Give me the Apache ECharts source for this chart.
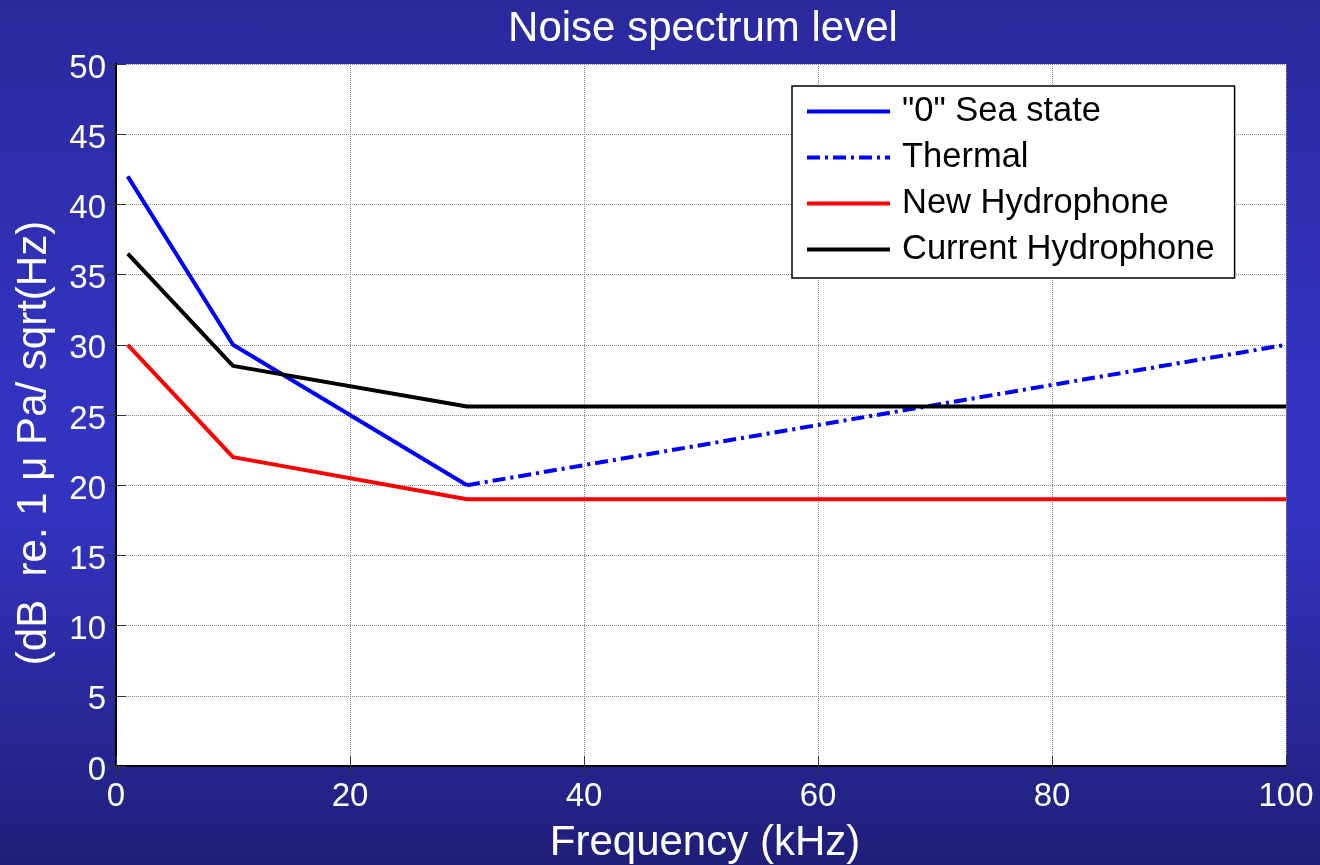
<!DOCTYPE html>
<html>
<head>
<meta charset="utf-8">
<script src="https://cdn.jsdelivr.net/npm/echarts@6/dist/echarts.min.js"></script>
<style>
html,body{margin:0;padding:0;}
#chart{width:1320px;height:865px;background:linear-gradient(to bottom,#2a299c 0%,#3333c2 45%,#3333c0 60%,#201e78 100%);}
</style>
</head>
<body>
<div id="chart"></div>
<script>
const titleText = 'Noise spectrum level';
const xAxisName = 'Frequency (kHz)';
const yAxisName = '(dB  re. 1 \u03bc Pa/ sqrt(Hz)';
const seriesNames = ['"0" Sea state', 'Thermal', 'New Hydrophone', 'Current Hydrophone'];

const freqSea = [1, 10, 30];
const seaState = [42, 30, 20];
const freqThermal = [30, 100];
const thermal = [20, 30];
const freqHydro = [1, 10, 30, 100];
const newHydro = [30, 22, 19, 19];
const currentHydro = [36.5, 28.5, 25.6, 25.6];

const xTicks = [0, 20, 40, 60, 80, 100];
const yTicks = [0, 5, 10, 15, 20, 25, 30, 35, 40, 45, 50];

const pair = (xs, ys) => xs.map((x, i) => [x, ys[i]]);
const FONT = "'Liberation Sans', Arial, Helvetica, sans-serif";

const SOLID_ICON = 'path://M0,0H83V4H0Z';
const DASHDOT_ICON = 'path://M0,0H13V4H0Z M18,0H21V4H18Z M26,0H39V4H26Z M44,0H47V4H44Z M52,0H65V4H52Z M70,0H73V4H70Z M78,0H83V4H78Z';

const chart = echarts.init(document.getElementById('chart'), null, {renderer: 'canvas'});

const gridLine = {show: true, lineStyle: {color: '#8c8c8c', type: 'dotted', width: 1}};
const axLine = {show: true, lineStyle: {color: '#000', width: 2}};
const tick = {show: true, inside: true, length: 10, lineStyle: {color: '#333', width: 1}};

const option = {
  backgroundColor: 'transparent',
  animation: false,
  title: {
    text: titleText,
    left: 698, top: 3, textAlign: 'center',
    textStyle: {color: '#fff', fontSize: 42, fontWeight: 'normal', fontFamily: FONT}
  },
  grid: {left: 116, right: 34, top: 64, bottom: 99, show: true, backgroundColor: '#fff', borderWidth: 0},
  legend: {
    data: seriesNames.map((n, i) => ({name: n, icon: i === 1 ? DASHDOT_ICON : SOLID_ICON})),
    orient: 'vertical',
    left: 792, top: 86,
    backgroundColor: '#fff',
    borderColor: '#000', borderWidth: 1.5,
    padding: [8, 20, 11, 15],
    itemWidth: 83, itemHeight: 4, itemGap: 11,
    textStyle: {color: '#000', fontSize: 34.5, fontFamily: FONT, padding: [0, 0, 0, 7]},
    selectedMode: false
  },
  xAxis: [{
    type: 'value', min: xTicks[0], max: xTicks[xTicks.length - 1], interval: 20,
    position: 'bottom',
    axisLine: axLine, axisTick: tick, splitLine: gridLine,
    axisLabel: {color: '#fff', fontSize: 33, fontFamily: FONT, margin: 14}
  }, {
    type: 'value', min: xTicks[0], max: xTicks[xTicks.length - 1], interval: 20,
    position: 'top',
    axisLine: axLine, axisTick: tick, splitLine: {show: false}, axisLabel: {show: false}
  }],
  yAxis: [{
    type: 'value', min: yTicks[0], max: yTicks[yTicks.length - 1], interval: 5,
    position: 'left',
    axisLine: axLine, axisTick: tick, splitLine: gridLine,
    axisLabel: {
      margin: 10,
      formatter: '{v|{value}}',
      rich: {v: {color: '#fff', fontSize: 33, fontFamily: FONT, padding: [9, 0, 0, 0]}}
    }
  }, {
    type: 'value', min: yTicks[0], max: yTicks[yTicks.length - 1], interval: 5,
    position: 'right',
    axisLine: axLine, axisTick: tick, splitLine: {show: false}, axisLabel: {show: false}
  }],
  graphic: [{
    type: 'text', x: 705, y: 843,
    style: {text: xAxisName, fill: '#fff', font: '42px ' + FONT, align: 'center', verticalAlign: 'middle'}
  }, {
    type: 'text', x: 34, y: 443, rotation: Math.PI / 2,
    style: {text: yAxisName, fill: '#fff', font: '42px ' + FONT, align: 'center', verticalAlign: 'middle'}
  }],
  series: [{
    name: seriesNames[0], type: 'line', symbol: 'none',
    data: pair(freqSea, seaState),
    lineStyle: {color: '#0000ff', width: 4}, itemStyle: {color: '#0000ff'}
  }, {
    name: seriesNames[1], type: 'line', symbol: 'none',
    data: pair(freqThermal, thermal),
    lineStyle: {color: '#0000ff', width: 4, type: [13, 5, 3, 5]}, itemStyle: {color: '#0000ff'}
  }, {
    name: seriesNames[2], type: 'line', symbol: 'none',
    data: pair(freqHydro, newHydro),
    lineStyle: {color: '#ff0000', width: 4}, itemStyle: {color: '#ff0000'}
  }, {
    name: seriesNames[3], type: 'line', symbol: 'none',
    data: pair(freqHydro, currentHydro),
    lineStyle: {color: '#000000', width: 4}, itemStyle: {color: '#000000'}
  }]
};
chart.setOption(option);
</script>
</body>
</html>
